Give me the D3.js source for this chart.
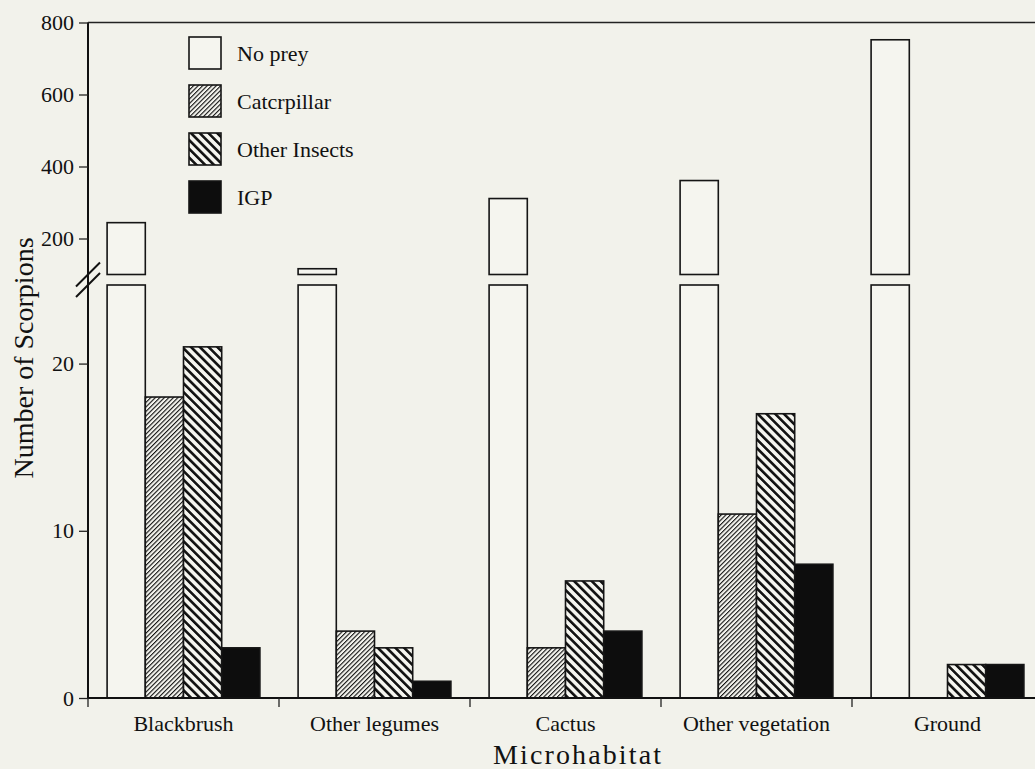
<!DOCTYPE html>
<html>
<head>
<meta charset="utf-8">
<script src="https://cdn.jsdelivr.net/npm/d3@7/dist/d3.min.js"></script>
<style>
  html, body { margin: 0; padding: 0; background: #f2f2eb; }
  svg { display: block; }
  text { font-family: "Liberation Serif", "Times New Roman", serif; fill: #111; }
</style>
</head>
<body>
<svg id="chart" width="1035" height="769"></svg>
<script>
// Microhabitat categories and prey-type series
const categories = ["Blackbrush", "Other legumes", "Cactus", "Other vegetation", "Ground"];
const seriesNames = ["No prey", "Catcrpillar", "Other Insects", "IGP"];

// Number of scorpions per microhabitat for each prey type
const noPrey = [244, 116, 311, 361, 752];
const caterpillar = [18, 4, 3, 11, 0];
const otherInsects = [21, 3, 7, 17, 2];
const igp = [3, 1, 4, 8, 2];

// Tick values of the two panels of the broken y axis
const upperTicks = [200, 400, 600, 800];
const lowerTicks = [0, 10, 20];

const seriesValues = [noPrey, caterpillar, otherInsects, igp];

const svg = d3.select("#chart");
const W = 1035, H = 769;

// Layout
const left = 88;
const plotRight = 1043;          // the frame runs past the visible edge
const lowerBottom = 698, lowerTop = 285;
const upperBottom = 274.5, upperTop = 22.5;
const lowerMax = 24.7, upperMin = 100, upperMax = 800;

const x = d3.scaleBand().domain(categories).range([left, plotRight]).padding(0);
const xs = d3.scaleBand().domain(seriesNames).range([0, x.bandwidth()])
  .paddingInner(0).paddingOuter(0.5);

const yLow = d3.scaleLinear().domain([0, lowerMax]).range([lowerBottom, lowerTop]);
const yUp = d3.scaleLinear().domain([upperMin, upperMax]).range([upperBottom, upperTop]);

// Fill patterns
const defs = svg.append("defs");
function stripes(id, period, width, angle, bg) {
  const p = defs.append("pattern")
    .attr("id", id)
    .attr("patternUnits", "userSpaceOnUse")
    .attr("width", period).attr("height", period)
    .attr("patternTransform", `rotate(${angle})`);
  p.append("rect").attr("width", period).attr("height", period).attr("fill", bg);
  p.append("rect").attr("x", 0).attr("y", 0).attr("width", width).attr("height", period).attr("fill", "#111");
}
stripes("hatchCat", 3.2, 1.1, 45, "#f5f5ef");
stripes("hatchIns", 6.2, 2.6, -45, "#f5f5ef");

const fills = {
  "No prey": "#f5f5ef",
  "Catcrpillar": "url(#hatchCat)",
  "Other Insects": "url(#hatchIns)",
  "IGP": "#0d0d0d"
};

// Bars
const barData = [];
categories.forEach((c, ci) => {
  seriesNames.forEach((s, si) => {
    barData.push({ cat: c, series: s, value: seriesValues[si][ci] });
  });
});

const bars = svg.append("g").attr("class", "bars");
barData.filter(d => d.value > 0).forEach(d => {
  const bx = x(d.cat) + xs(d.series);
  const bw = xs.bandwidth();
  const lowTopVal = Math.min(d.value, lowerMax);
  bars.append("rect")
    .attr("x", bx).attr("width", bw)
    .attr("y", yLow(lowTopVal))
    .attr("height", yLow(0) - yLow(lowTopVal))
    .attr("fill", fills[d.series])
    .attr("stroke", "#151515").attr("stroke-width", 1.6);
  if (d.value > lowerMax) {
    bars.append("rect")
      .attr("x", bx).attr("width", bw)
      .attr("y", yUp(d.value))
      .attr("height", yUp(upperMin) - yUp(d.value))
      .attr("fill", fills[d.series])
      .attr("stroke", "#151515").attr("stroke-width", 1.6);
  }
});

// Frame: left axis line and top line
svg.append("line").attr("x1", left).attr("x2", left).attr("y1", upperTop).attr("y2", lowerBottom)
  .attr("stroke", "#111").attr("stroke-width", 2);
svg.append("line").attr("x1", left).attr("x2", W).attr("y1", upperTop).attr("y2", upperTop)
  .attr("stroke", "#222").attr("stroke-width", 1.6);

// Y axes (upper and lower panels)
function styleAxis(g) {
  g.select(".domain").remove();
  g.selectAll(".tick line").attr("stroke", "#222").attr("stroke-width", 1.3);
  g.selectAll(".tick text").attr("font-size", 22).attr("font-family", "Liberation Serif").attr("fill", "#111");
}
svg.append("g").attr("transform", `translate(${left},0)`)
  .call(d3.axisLeft(yUp).tickValues(upperTicks).tickSize(9).tickPadding(5))
  .call(styleAxis);
svg.append("g").attr("transform", `translate(${left},0)`)
  .call(d3.axisLeft(yLow).tickValues(lowerTicks).tickSize(9).tickPadding(5))
  .call(styleAxis);

// Axis break marks
const brk = svg.append("g").attr("stroke", "#111").attr("stroke-width", 2);
brk.append("line").attr("x1", 76).attr("y1", 286.5).attr("x2", 100).attr("y2", 262.5);
brk.append("line").attr("x1", 76).attr("y1", 297).attr("x2", 100).attr("y2", 273);

// X axis: baseline, boundary ticks and category labels
svg.append("line").attr("x1", left).attr("x2", W).attr("y1", lowerBottom).attr("y2", lowerBottom)
  .attr("stroke", "#111").attr("stroke-width", 2);
const bounds = categories.map(c => x(c)).concat([x(categories[categories.length - 1]) + x.bandwidth()]);
svg.append("g").selectAll("line").data(bounds).join("line")
  .attr("x1", d => d).attr("x2", d => d)
  .attr("y1", lowerBottom).attr("y2", lowerBottom + 9)
  .attr("stroke", "#222").attr("stroke-width", 1.3);
svg.append("g").attr("transform", `translate(0,${lowerBottom})`)
  .call(d3.axisBottom(x).tickSize(0).tickPadding(17))
  .call(g => {
    g.select(".domain").remove();
    g.selectAll(".tick text").attr("font-size", 22).attr("font-family", "Liberation Serif").attr("fill", "#111");
  });

// Axis titles
svg.append("text")
  .attr("x", 577).attr("y", 764)
  .attr("text-anchor", "middle")
  .attr("font-size", 28)
  .attr("textLength", 168).attr("lengthAdjust", "spacing")
  .text("Microhabitat");
svg.append("text")
  .attr("transform", "translate(33,358) rotate(-90)")
  .attr("text-anchor", "middle")
  .attr("font-size", 28)
  .text("Number of Scorpions");

// Legend
const legend = svg.append("g").attr("transform", "translate(189,37)");
seriesNames.forEach((s, i) => {
  const row = legend.append("g").attr("transform", `translate(0,${i * 48})`);
  row.append("rect").attr("width", 32).attr("height", 32)
    .attr("fill", fills[s]).attr("stroke", "#151515").attr("stroke-width", 1.6);
  row.append("text").attr("x", 48).attr("y", 24).attr("font-size", 22).text(s);
});
</script>
</body>
</html>
